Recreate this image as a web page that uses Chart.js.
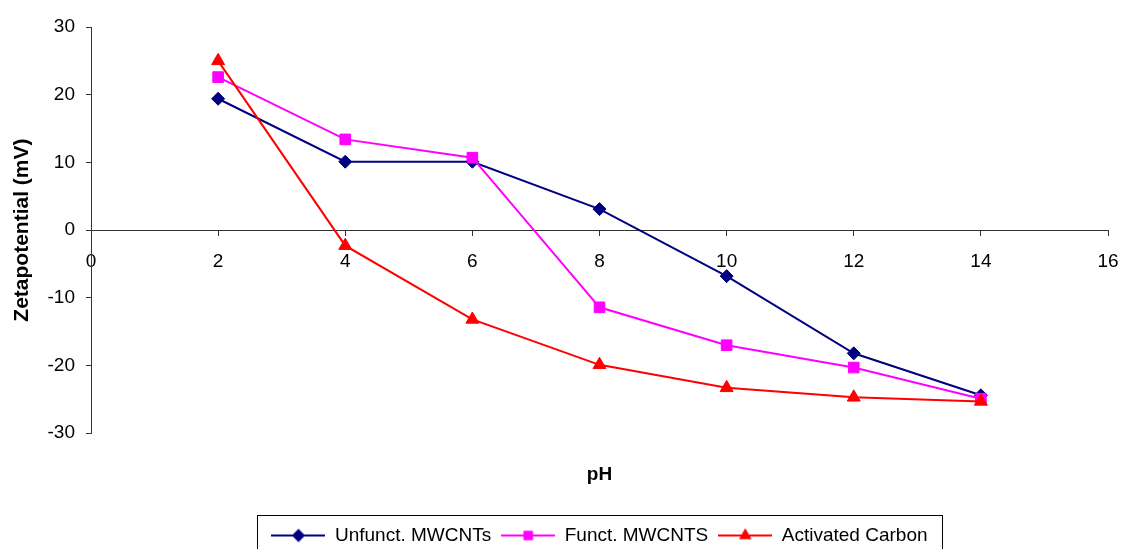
<!DOCTYPE html>
<html>
<head>
<meta charset="utf-8">
<script src="https://cdn.jsdelivr.net/npm/chart.js@4.4.1/dist/chart.umd.min.js"></script>
<style>
  html, body { margin: 0; padding: 0; background: #fff; }
  #wrap { width: 1124px; height: 549px; position: relative; }
</style>
</head>
<body>
<div id="wrap"><canvas id="zetaChart"></canvas></div>
<script>
// pH values (x) and zeta potential readings (mV)
const phValues = [2, 4, 6, 8, 10, 12, 14];
const unfunctMwcnts = [19.4, 10.1, 10.1, 3.1, -6.8, -18.2, -24.4];
const functMwcnts = [22.6, 13.4, 10.7, -11.4, -17.0, -20.3, -24.9];
const activatedCarbon = [25.0, -2.3, -13.2, -19.9, -23.3, -24.7, -25.3];

const seriesNames = ["Unfunct. MWCNTs", "Funct. MWCNTS", "Activated Carbon"];
const seriesColors = ["#000080", "#FF00FF", "#FF0000"];
const seriesMarkers = ["rectRot", "rect", "triangle"];

const FONT = "'Liberation Sans', Arial, sans-serif";

const toPoints = (ys) => ys.map((y, i) => ({ x: phValues[i], y: y }));

// little "line + marker" swatch for the legend, like the original
const makeSwatch = (color, marker) => {
  const c = document.createElement("canvas");
  c.width = 54;
  c.height = 16;
  const ctx = c.getContext("2d");
  ctx.strokeStyle = color;
  ctx.lineWidth = 2;
  ctx.beginPath();
  ctx.moveTo(0, 8);
  ctx.lineTo(54, 8);
  ctx.stroke();
  Chart.helpers.drawPoint(ctx, { pointStyle: marker, radius: 5, borderWidth: 1 }, 27, 8);
  ctx.fillStyle = color;
  ctx.fill();
  ctx.stroke();
  return c;
};

// frame around the legend
const legendFrame = {
  id: "legendFrame",
  afterDraw(chart) {
    const boxes = chart.legend && chart.legend.legendHitBoxes;
    if (!boxes || !boxes.length) return;
    const first = boxes[0];
    const last = boxes[boxes.length - 1];
    const cy = first.top + first.height / 2;
    const left = Math.round(first.left - 14);
    const right = Math.round(last.left + last.width + 14);
    const ctx = chart.ctx;
    ctx.save();
    ctx.strokeStyle = "#000";
    ctx.lineWidth = 1;
    ctx.strokeRect(left + 0.5, Math.round(cy - 21) + 0.5, right - left, 60);
    ctx.restore();
  }
};

const allSeries = [unfunctMwcnts, functMwcnts, activatedCarbon];

const datasets = allSeries.map((ys, i) => ({
  label: seriesNames[i],
  data: toPoints(ys),
  borderColor: seriesColors[i],
  backgroundColor: seriesColors[i],
  borderWidth: 2,
  pointStyle: seriesMarkers[i],
  pointRadius: [6.5, 7.5, 7.5][i],
  pointHoverRadius: [6.5, 7.5, 7.5][i],
  pointBorderWidth: 1,
  tension: 0,
  order: 2 - i
}));

new Chart(document.getElementById("zetaChart"), {
  type: "line",
  data: { datasets: datasets },
  options: {
    responsive: true,
    maintainAspectRatio: false,
    animation: false,
    layout: { padding: { left: 10, right: 16, top: 27, bottom: -6 } },
    scales: {
      x: {
        type: "linear",
        position: { y: 0 },
        min: 0,
        max: 16,
        afterFit(scale) {
          scale.height = 0;
          scale.paddingLeft = 0;
          scale.paddingRight = 0;
        },
        ticks: { stepSize: 2, color: "#000", padding: 15, font: { family: FONT, size: 19 } },
        grid: { drawOnChartArea: false, drawTicks: true, tickLength: 5, color: "#333" },
        border: { color: "#333", width: 1 }
      },
      y: {
        min: -30,
        max: 30,
        afterFit(scale) { scale.width = 81; },
        ticks: { stepSize: 10, color: "#000", padding: 11, font: { family: FONT, size: 19 } },
        grid: { drawOnChartArea: false, drawTicks: true, tickLength: 5, color: "#333" },
        border: { color: "#333", width: 1 },
        title: {
          display: true,
          text: "Zetapotential (mV)",
          color: "#000",
          padding: 0,
          font: { family: FONT, size: 21, weight: "bold" }
        }
      }
    },
    plugins: {
      tooltip: { enabled: false },
      title: {
        display: true,
        text: "pH",
        position: "bottom",
        fullSize: false,
        weight: 500,
        color: "#000",
        padding: { top: 30, bottom: 30 },
        font: { family: FONT, size: 19, weight: "bold" }
      },
      legend: {
        position: "bottom",
        fullSize: false,
        labels: {
          usePointStyle: true,
          pointStyleWidth: 54,
          padding: 10,
          color: "#000",
          font: { family: FONT, size: 19 },
          generateLabels(chart) {
            return chart.data.datasets.map((ds, i) => ({
              text: ds.label,
              fillStyle: ds.borderColor,
              strokeStyle: ds.borderColor,
              lineWidth: 0,
              pointStyle: makeSwatch(ds.borderColor, ds.pointStyle),
              hidden: false,
              datasetIndex: i,
              fontColor: "#000"
            }));
          }
        }
      }
    }
  },
  plugins: [legendFrame]
});
</script>
</body>
</html>
